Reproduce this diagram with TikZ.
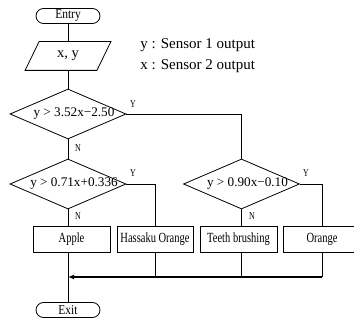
\documentclass[tikz,border=0pt]{standalone}
\usepackage{fontspec}
\setmainfont{Liberation Serif}
\newfontfamily\condfont[FakeStretch=0.75]{Liberation Serif}
\newfontfamily\termfont[FakeStretch=0.85]{Liberation Serif}
\newcommand\dtext[1]{\makebox[0pt]{\hspace{12pt}\raisebox{-2.5pt}{#1}}}
\usetikzlibrary{shapes.geometric,shapes.misc,arrows.meta}
\begin{document}
\begin{tikzpicture}[x=1pt,y=-1pt,line width=0.8pt,
  term/.style={rounded rectangle, draw, minimum width=64pt, minimum height=15pt, inner sep=0pt, font=\termfont\fontsize{13.5}{15}\selectfont},
  dec/.style={diamond, draw, aspect=2.32, minimum width=116pt, minimum height=50pt, inner sep=0pt, font=\fontsize{13.2}{15}\selectfont},
  proc/.style={rectangle, draw, minimum height=26pt, inner sep=0pt, font=\condfont\fontsize{14}{16}\selectfont},
  io/.style={minimum width=71pt, minimum height=28pt, inner sep=0pt, font=\fontsize{14.5}{16}\selectfont},
  yn/.style={font=\condfont\fontsize{10.5}{12}\selectfont, inner sep=0pt},
  legend/.style={font=\fontsize{15}{17}\selectfont, anchor=base west, inner sep=0pt},
  mainline/.style={line width=1.6pt}]
\useasboundingbox (0,0) rectangle (354,323);
\clip (0,0) rectangle (354,323);
% nodes
\node[term] (entry) at (68,16) {Entry};
\node[io] (io) at (68,56) {x, y};
\draw ([xshift=7pt]io.north west) -- ([xshift=7pt]io.north east) -- ([xshift=-7pt]io.south east) -- ([xshift=-7pt]io.south west) -- cycle;
\node[legend] (leg1) at (140,49) {y : Sensor 1 output};
\node[legend] (leg2) at (140,70) {x : Sensor 2 output};
\node[dec] (d1) at (68,114) {\dtext{y > 3.52x−2.50}};
\node[dec] (d2) at (68,184) {\dtext{y > 0.71x+0.336}};
\node[dec] (d3) at (241.5,184) {\dtext{y > 0.90x−0.10}};
\node[proc, minimum width=77pt] (apple) at (71.5,239) {Apple};
\node[proc, minimum width=76pt] (hassaku) at (155,239) {Hassaku Orange};
\node[proc, minimum width=77pt] (teeth) at (238.5,239) {Teeth brushing};
\node[proc, minimum width=77pt] (orange) at (322,239) {Orange};
\node[term] (exit) at (68,310) {Exit};
\coordinate (m) at (68,277);
% labels
\node[yn] (y1) at (133,104) {Y};
\node[yn] (n1) at (78,148) {N};
\node[yn] (y2) at (133,173) {Y};
\node[yn] (n2) at (78,216) {N};
\node[yn] (y3) at (306,173) {Y};
\node[yn] (n3) at (252,216) {N};
% connectors
\draw (entry.south) -- (io.north);
\draw (io.south) -- (d1.north);
\draw (d1.south) -- (d2.north);
\draw (d1.east) -| (d3.north);
\draw (d2.south) -- (d2.south |- apple.north);
\draw (d2.east) -| (hassaku.north);
\draw (d3.south) -- (d3.south |- teeth.north);
\draw (d3.east) -| (orange.north);
\draw (hassaku.south) -- (hassaku.south |- m);
\draw (d3.south |- teeth.south) -- (d3.south |- m);
\draw (orange.south) -- (orange.south |- m);
\draw[mainline,-{Latex[length=6pt,width=5pt]}] (orange.south |- m) -- (m);
\draw (m |- apple.south) -- (exit.north);
\end{tikzpicture}
\end{document}
